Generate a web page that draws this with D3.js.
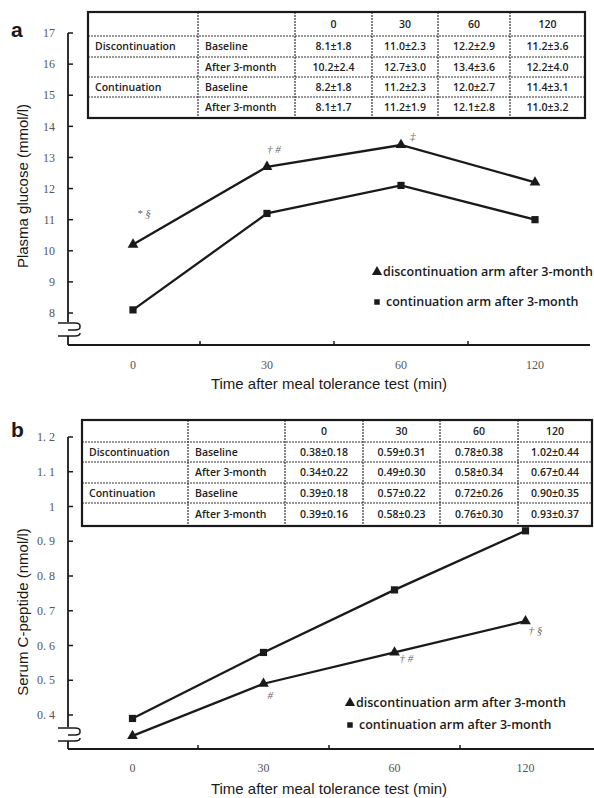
<!DOCTYPE html>
<html>
<head>
<meta charset="utf-8">
<script src="https://cdn.jsdelivr.net/npm/d3@7"></script>
<style>
  html, body { margin: 0; padding: 0; background: #fff; }
  svg { display: block; }
</style>
</head>
<body>
<div id="chart"></div>
<script>
// Data
const timeCats = ["0", "30", "60", "120"];

const glucoseDisc = [10.2, 12.7, 13.4, 12.2];
const glucoseCont = [8.1, 11.2, 12.1, 11.0];
const glucoseTicks = [8, 9, 10, 11, 12, 13, 14, 15, 16, 17];
const glucoseTickLabels = ["8", "9", "10", "11", "12", "13", "14", "15", "16", "17"];

const cpepDisc = [0.34, 0.49, 0.58, 0.67];
const cpepCont = [0.39, 0.58, 0.76, 0.93];
const cpepTicks = [0.4, 0.5, 0.6, 0.7, 0.8, 0.9, 1.0, 1.1, 1.2];
const cpepTickLabels = ["0. 4", "0. 5", "0. 6", "0. 7", "0. 8", "0. 9", "1", "1. 1", "1. 2"];

const rowGroups = ["Discontinuation", "", "Continuation", ""];
const rowTimes = ["Baseline", "After 3-month", "Baseline", "After 3-month"];

const glucoseTable = [
    ["8.1±1.8", "11.0±2.3", "12.2±2.9", "11.2±3.6"],
    ["10.2±2.4", "12.7±3.0", "13.4±3.6", "12.2±4.0"],
    ["8.2±1.8", "11.2±2.3", "12.0±2.7", "11.4±3.1"],
    ["8.1±1.7", "11.2±1.9", "12.1±2.8", "11.0±3.2"]
];
const cpepTable = [
    ["0.38±0.18", "0.59±0.31", "0.78±0.38", "1.02±0.44"],
    ["0.34±0.22", "0.49±0.30", "0.58±0.34", "0.67±0.44"],
    ["0.39±0.18", "0.57±0.22", "0.72±0.26", "0.90±0.35"],
    ["0.39±0.16", "0.58±0.23", "0.76±0.30", "0.93±0.37"]
];

// significance marks: [time index, text]
const glucoseMarks = [[0, "* §"], [1, "† #"], [2, "‡"]];
const cpepMarks = [[1, "#"], [2, "† #"], [3, "† §"]];

const legendLabels = ["discontinuation arm after 3-month", "continuation arm after 3-month"];

const W = 594, H = 798;
const svg = d3.select("#chart").append("svg")
    .attr("width", W)
    .attr("height", H);

const tableFont = "'Open Sans', sans-serif";
const ink = "#1a1a1a";

function drawPanel(cfg) {
    const g = svg.append("g");

    const x = d3.scaleBand().domain(timeCats).range(cfg.xRange);
    const y = d3.scaleLinear().domain(cfg.yDomain).range(cfg.yRange);
    const cx = d => x(d) + x.bandwidth() / 2;

    // panel letter
    g.append("text")
        .attr("x", 11).attr("y", cfg.letterY)
        .attr("font-family", "Liberation Sans, Arial, sans-serif")
        .attr("font-weight", "bold")
        .attr("font-size", 21)
        .attr("fill", ink)
        .text(cfg.letter);

    // y axis line with break
    const ax = 68;
    g.append("line")
        .attr("x1", ax).attr("x2", ax)
        .attr("y1", y(cfg.yDomain[1])).attr("y2", cfg.breakY)
        .attr("stroke", ink).attr("stroke-width", 1.8);
    g.append("line")
        .attr("x1", ax).attr("x2", ax)
        .attr("y1", cfg.breakY + 14).attr("y2", cfg.axisY)
        .attr("stroke", ink).attr("stroke-width", 1.8);
    const b = cfg.breakY;
    g.append("path")
        .attr("d", `M58,${b + 1} H75 Q80,${b + 1} 80,${b + 4} V${b + 5} Q80,${b + 8} 75,${b + 8} H68`)
        .attr("fill", "none").attr("stroke", ink).attr("stroke-width", 1.5);
    g.append("path")
        .attr("d", `M58,${b + 14} H75 Q80,${b + 14} 80,${b + 11}`)
        .attr("fill", "none").attr("stroke", ink).attr("stroke-width", 1.5);

    // y ticks
    g.selectAll(".ytick").data(cfg.yTicks).join("line")
        .attr("x1", ax).attr("x2", ax + 5)
        .attr("y1", d => y(d)).attr("y2", d => y(d))
        .attr("stroke", ink).attr("stroke-width", 1.5);
    g.selectAll(".ylab").data(cfg.yTicks).join("text")
        .attr("x", 55).attr("y", d => y(d))
        .attr("dy", "0.35em")
        .attr("text-anchor", "end")
        .attr("font-family", "Liberation Serif, 'DejaVu Serif', serif")
        .attr("font-size", 12)
        .attr("fill", "#555")
        .text((d, i) => cfg.yTickLabels[i]);

    // x axis
    g.append("line")
        .attr("x1", ax).attr("x2", cfg.axisRight)
        .attr("y1", cfg.axisY).attr("y2", cfg.axisY)
        .attr("stroke", ink).attr("stroke-width", 1.8);
    g.selectAll(".xtick").data(timeCats.slice(1)).join("line")
        .attr("x1", d => x(d)).attr("x2", d => x(d))
        .attr("y1", cfg.axisY).attr("y2", cfg.axisY - 4)
        .attr("stroke", ink).attr("stroke-width", 1.5);
    g.selectAll(".xlab").data(timeCats).join("text")
        .attr("x", d => cx(d)).attr("y", cfg.tickLabelY)
        .attr("text-anchor", "middle")
        .attr("font-family", "Liberation Serif, 'DejaVu Serif', serif")
        .attr("font-size", 12)
        .attr("fill", "#555")
        .text(d => d);

    // axis titles
    g.append("text")
        .attr("x", 329).attr("y", cfg.xTitleY)
        .attr("text-anchor", "middle")
        .attr("font-family", "Liberation Sans, Arial, sans-serif")
        .attr("font-size", 15)
        .attr("fill", ink)
        .text("Time after meal tolerance test (min)");
    g.append("text")
        .attr("transform", `translate(28,${cfg.yTitleCenter}) rotate(-90)`)
        .attr("text-anchor", "middle")
        .attr("font-family", "Liberation Sans, Arial, sans-serif")
        .attr("font-size", 15)
        .attr("fill", ink)
        .text(cfg.yTitle);

    // table
    const t = cfg.table;
    const tg = g.append("g");
    tg.append("rect")
        .attr("x", t.cols[0]).attr("y", t.rows[0])
        .attr("width", t.cols[t.cols.length - 1] - t.cols[0])
        .attr("height", t.rows[t.rows.length - 1] - t.rows[0])
        .attr("fill", "#fff");
    tg.selectAll(".hl").data(t.rows.slice(1, -1)).join("line")
        .attr("x1", t.cols[0]).attr("x2", t.cols[t.cols.length - 1])
        .attr("y1", d => d).attr("y2", d => d)
        .attr("stroke", "#333").attr("stroke-width", 1.2)
        .attr("stroke-dasharray", "2,1");
    tg.selectAll(".vl").data(t.cols.slice(1, -1)).join("line")
        .attr("x1", d => d).attr("x2", d => d)
        .attr("y1", t.rows[0]).attr("y2", t.rows[t.rows.length - 1])
        .attr("stroke", "#333").attr("stroke-width", 1.2)
        .attr("stroke-dasharray", "2,1");
    tg.append("rect")
        .attr("x", t.cols[0]).attr("y", t.rows[0])
        .attr("width", t.cols[t.cols.length - 1] - t.cols[0])
        .attr("height", t.rows[t.rows.length - 1] - t.rows[0])
        .attr("fill", "none").attr("stroke", ink).attr("stroke-width", 2.2);

    const rowMid = i => (t.rows[i] + t.rows[i + 1]) / 2;
    const colMid = j => (t.cols[j] + t.cols[j + 1]) / 2;
    const cellText = (xp, yp, s, anchor) => tg.append("text")
        .attr("x", xp).attr("y", yp).attr("dy", "0.35em")
        .attr("text-anchor", anchor)
        .attr("font-family", tableFont)
        .attr("font-weight", 600)
        .attr("font-size", 10.5)
        .attr("fill", "#222")
        .text(s);

    timeCats.forEach((c, j) => cellText(colMid(j + 2), rowMid(0), c, "middle"));
    rowGroups.forEach((s, i) => cellText(t.cols[0] + 7, rowMid(i + 1), s, "start"));
    rowTimes.forEach((s, i) => cellText(t.cols[1] + 7, rowMid(i + 1), s, "start"));
    cfg.tableValues.forEach((row, i) => row.forEach((s, j) => cellText(colMid(j + 2), rowMid(i + 1), s, "middle")));

    // lines
    const line = d3.line().x((d, i) => cx(timeCats[i])).y(d => y(d));
    [cfg.disc, cfg.cont].forEach(series => {
        g.append("path")
            .attr("d", line(series))
            .attr("fill", "none")
            .attr("stroke", ink)
            .attr("stroke-width", 2.3);
    });

    const tri = d3.symbol().type(d3.symbolTriangle).size(50);
    const sq = d3.symbol().type(d3.symbolSquare).size(52);
    g.selectAll(".tri").data(cfg.disc).join("path")
        .attr("d", tri)
        .attr("transform", (d, i) => `translate(${cx(timeCats[i])},${y(d)})`)
        .attr("fill", ink);
    g.selectAll(".sq").data(cfg.cont).join("path")
        .attr("d", sq)
        .attr("transform", (d, i) => `translate(${cx(timeCats[i])},${y(d)})`)
        .attr("fill", ink);

    // significance marks
    cfg.marks.forEach(([i, s], k) => {
        g.append("text")
            .attr("x", cx(timeCats[i]) + cfg.markOffsets[k][0])
            .attr("y", y(cfg.disc[i]) + cfg.markOffsets[k][1])
            .attr("font-family", "Liberation Serif, 'DejaVu Serif', serif")
            .attr("font-style", "italic")
            .attr("font-size", 11)
            .attr("fill", "#666")
            .text(s);
    });

    // legend
    const L = cfg.legend;
    g.append("path").attr("d", d3.symbol().type(d3.symbolTriangle).size(45))
        .attr("transform", `translate(${L.x},${L.y})`).attr("fill", ink);
    g.append("path").attr("d", d3.symbol().type(d3.symbolSquare).size(30))
        .attr("transform", `translate(${L.x},${L.y + L.dy})`).attr("fill", ink);
    legendLabels.forEach((s, i) => {
        g.append("text")
            .attr("x", L.x + (i === 0 ? 6 : 9)).attr("y", L.y + i * L.dy)
            .attr("dy", "0.35em")
            .attr("font-family", tableFont)
            .attr("font-weight", 600)
            .attr("font-size", 12.5)
            .attr("fill", ink)
            .text(s);
    });
}

drawPanel({
    letter: "a", letterY: 37,
    yDomain: [8, 17], yRange: [313, 33],
    yTicks: glucoseTicks, yTickLabels: glucoseTickLabels,
    xRange: [66, 602], axisY: 345, breakY: 322, axisRight: 590,
    tickLabelY: 369, xTitleY: 389,
    yTitle: "Plasma glucose (mmol/l)", yTitleCenter: 186,
    table: { cols: [88, 198, 295, 372, 438, 510, 585], rows: [12, 36, 57, 77, 97, 118] },
    tableValues: glucoseTable,
    disc: glucoseDisc, cont: glucoseCont,
    marks: glucoseMarks, markOffsets: [[4, -28], [0, -14], [9, -5]],
    legend: { x: 377, y: 272, dy: 30 }
});

drawPanel({
    letter: "b", letterY: 437,
    yDomain: [0.4, 1.2], yRange: [715, 437],
    yTicks: cpepTicks, yTickLabels: cpepTickLabels,
    xRange: [67, 591], axisY: 749, breakY: 727, axisRight: 594,
    tickLabelY: 772, xTitleY: 794,
    yTitle: "Serum C-peptide (nmol/l)", yTitleCenter: 612,
    table: { cols: [82, 188, 285, 363, 440, 518, 592], rows: [420, 442, 462, 483, 503, 526] },
    tableValues: cpepTable,
    disc: cpepDisc, cont: cpepCont,
    marks: cpepMarks, markOffsets: [[4, 15], [5, 10], [3, 13]],
    legend: { x: 350, y: 703, dy: 22 }
});
</script>
</body>
</html>
